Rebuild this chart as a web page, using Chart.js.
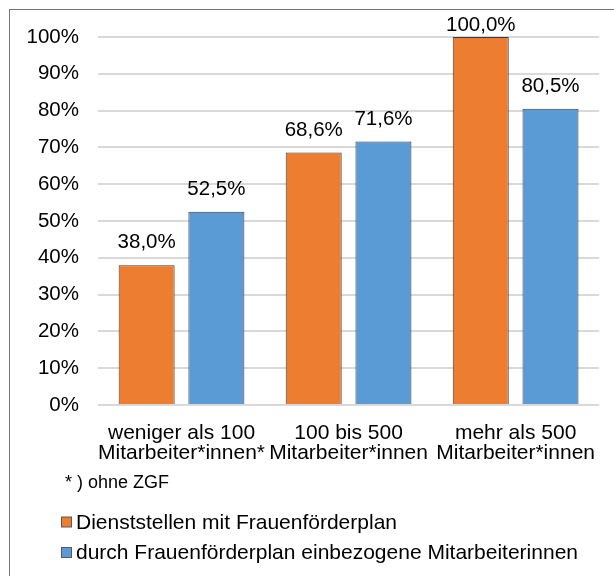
<!DOCTYPE html>
<html>
<head>
<meta charset="utf-8">
<script src="https://cdn.jsdelivr.net/npm/chart.js@4.4.1/dist/chart.umd.min.js"></script>
<style>
  html, body { margin: 0; padding: 0; background: #fff; }
  canvas { display: block; }
</style>
</head>
<body>
<canvas id="chart" width="614" height="576"></canvas>
<script>
const categories = [
  ["weniger als 100", "Mitarbeiter*innen*"],
  ["100 bis 500", "Mitarbeiter*innen"],
  ["mehr als 500", "Mitarbeiter*innen"]
];
const seriesNames = [
  "Dienststellen mit Frauenförderplan",
  "durch Frauenförderplan einbezogene Mitarbeiterinnen"
];
const dienststellen = [38.0, 68.6, 100.0];
const mitarbeiterinnen = [52.5, 71.6, 80.5];
const yTickValues = [0, 10, 20, 30, 40, 50, 60, 70, 80, 90, 100];
const footnote = "* ) ohne ZGF";

const FONT = "'Liberation Sans', Arial, sans-serif";

// outer frame, starts at 9/9 and runs off the page
const frame = {
  id: "frame",
  beforeDraw(chart) {
    const ctx = chart.ctx;
    ctx.save();
    ctx.strokeStyle = "#767676";
    ctx.lineWidth = 1;
    ctx.strokeRect(9.5, 9.5, chart.width + 20, chart.height + 20);
    ctx.restore();
  }
};

// value labels above the bars, "38,0%"
const valueLabels = {
  id: "valueLabels",
  afterDatasetsDraw(chart) {
    const ctx = chart.ctx;
    ctx.save();
    ctx.font = "20.5px " + FONT;
    ctx.fillStyle = "#000";
    ctx.textAlign = "center";
    ctx.textBaseline = "middle";
    chart.data.datasets.forEach((ds, i) => {
      chart.getDatasetMeta(i).data.forEach((bar, j) => {
        const y = Math.max(bar.y - 22.5, chart.chartArea.top - 12);
        ctx.fillText(ds.data[j].toFixed(1).replace(".", ",") + "%", bar.x, y);
      });
    });
    ctx.restore();
  }
};

// footnote + stacked legend under the axis
const legendBlock = {
  id: "legendBlock",
  afterDraw(chart) {
    const ctx = chart.ctx;
    const base = chart.chartArea.bottom;
    ctx.save();
    ctx.textAlign = "left";
    ctx.textBaseline = "middle";
    ctx.fillStyle = "#000";
    ctx.font = "18px " + FONT;
    ctx.fillText(footnote, 65, base + 78);
    ctx.font = "21px " + FONT;
    chart.data.datasets.forEach((ds, i) => {
      const y = base + 117 + i * 30.5;
      ctx.fillStyle = ds.backgroundColor;
      ctx.fillRect(61.5, y - 5, 10, 10);
      ctx.strokeStyle = "#595959";
      ctx.lineWidth = 1;
      ctx.strokeRect(61.5, y - 5, 10, 10);
      ctx.fillStyle = "#000";
      ctx.fillText(ds.label, 76, y + 1);
    });
    ctx.restore();
  }
};

new Chart(document.getElementById("chart"), {
  type: "bar",
  data: {
    labels: categories,
    datasets: [
      {
        label: seriesNames[0],
        data: dienststellen,
        backgroundColor: "#ED7D31",
        borderColor: "#3b3b3b",
        borderWidth: 1,
        categoryPercentage: 0.835,
        barPercentage: 0.803
      },
      {
        label: seriesNames[1],
        data: mitarbeiterinnen,
        backgroundColor: "#5B9BD5",
        borderColor: "#3b3b3b",
        borderWidth: 1,
        categoryPercentage: 0.835,
        barPercentage: 0.803
      }
    ]
  },
  options: {
    responsive: false,
    animation: false,
    layout: { padding: { left: 10, right: 6, top: 37, bottom: 111 } },
    plugins: {
      legend: { display: false },
      tooltip: { enabled: false }
    },
    scales: {
      x: {
        grid: { display: false, drawTicks: false },
        border: { display: false },
        ticks: {
          color: "#000",
          font: { family: FONT, size: 21, lineHeight: 0.95 },
          padding: 18,
          maxRotation: 0,
          autoSkip: false
        },
        afterFit(scale) { scale.height = 60; }
      },
      y: {
        min: 0,
        max: 100,
        grid: { color: "#d9d9d9", lineWidth: 2, drawTicks: false },
        border: { display: false },
        ticks: {
          color: "#000",
          font: { family: FONT, size: 20.5 },
          padding: 19,
          callback: v => v + "%"
        },
        afterBuildTicks(scale) {
          scale.ticks = yTickValues.map(v => ({ value: v }));
        },
        afterFit(scale) { scale.width = 88; }
      }
    }
  },
  plugins: [frame, valueLabels, legendBlock]
});
</script>
</body>
</html>
